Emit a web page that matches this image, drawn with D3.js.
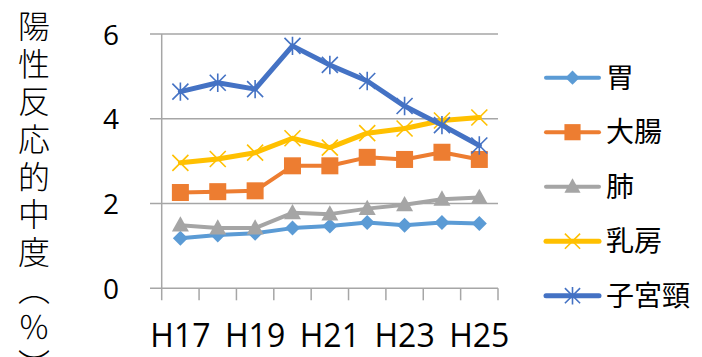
<!DOCTYPE html>
<html>
<head>
<meta charset="utf-8">
<script src="https://cdn.jsdelivr.net/npm/d3@7"></script>
<style>
  html, body { margin: 0; padding: 0; background: #fff; }
  svg { display: block; }
</style>
</head>
<body>
<svg id="chart" width="702" height="357"></svg>
<script>
// 年度（平成）
const years = ["H17", "H18", "H19", "H20", "H21", "H22", "H23", "H24", "H25"];
const yearLabels = ["H17", "H19", "H21", "H23", "H25"];
const yTicks = [0, 2, 4, 6];

// 部位別の陽性反応的中度（%）
const stomach    = [1.18, 1.26, 1.30, 1.42, 1.47, 1.55, 1.49, 1.55, 1.53];
const colorectal = [2.26, 2.28, 2.30, 2.89, 2.89, 3.09, 3.04, 3.21, 3.04];
const lung       = [1.49, 1.42, 1.42, 1.78, 1.75, 1.88, 1.97, 2.10, 2.14];
const breast     = [2.96, 3.05, 3.20, 3.54, 3.32, 3.66, 3.77, 3.96, 4.03];
const cervix     = [4.64, 4.85, 4.70, 5.72, 5.27, 4.89, 4.30, 3.85, 3.37];

const series = [
  { name: "胃",     values: stomach,    color: "#5B9BD5", marker: "diamond",  width: 4 },
  { name: "大腸",   values: colorectal, color: "#ED7D31", marker: "square",   width: 4 },
  { name: "肺",     values: lung,       color: "#A5A5A5", marker: "triangle", width: 4 },
  { name: "乳房",   values: breast,     color: "#FFC000", marker: "x",        width: 5 },
  { name: "子宮頸", values: cervix,     color: "#4472C4", marker: "star",     width: 5 }
];

const svg = d3.select("#chart");
const plot = { left: 161.7, right: 498, top: 34, bottom: 288.3 };

const x = d3.scaleBand().domain(years).range([plot.left, plot.right]).paddingInner(0).paddingOuter(0);
const cx = d => x(d) + x.bandwidth() / 2;
const y = d3.scaleLinear().domain([0, 6]).range([plot.bottom, plot.top]);

const gridColor = "#A6A6A6";

// 横の目盛線
svg.append("g").selectAll("line").data(yTicks).join("line")
  .attr("x1", 150).attr("x2", plot.right)
  .attr("y1", d => y(d)).attr("y2", d => y(d))
  .attr("stroke", gridColor).attr("stroke-width", 1.5);

// 縦軸
svg.append("line")
  .attr("x1", plot.left).attr("x2", plot.left)
  .attr("y1", plot.top).attr("y2", plot.bottom + 12)
  .attr("stroke", gridColor).attr("stroke-width", 1.5);

// 横軸の区切り目盛
const bounds = years.map(d => x(d)).concat([x(years[years.length - 1]) + x.bandwidth()]);
svg.append("g").selectAll("line").data(bounds.slice(1)).join("line")
  .attr("x1", d => d).attr("x2", d => d)
  .attr("y1", plot.bottom).attr("y2", plot.bottom + 12)
  .attr("stroke", gridColor).attr("stroke-width", 1.5);

// 縦軸ラベル
const yAxis = d3.axisLeft(y).tickValues(yTicks).tickFormat(d3.format("d")).tickSize(0).tickPadding(0);
const gy = svg.append("g").attr("transform", "translate(119,0)").call(yAxis);
gy.select(".domain").remove();
gy.selectAll("text")
  .attr("font-family", "'Open Sans', sans-serif")
  .attr("font-size", 28).attr("fill", "#000")
  .attr("x", 0).attr("dy", "0.36em");

// 横軸ラベル
const xAxis = d3.axisBottom(x).tickValues(yearLabels).tickSize(0).tickPadding(0);
const gx = svg.append("g").attr("transform", "translate(0,347)").call(xAxis);
gx.select(".domain").remove();
gx.selectAll("text")
  .attr("font-family", "'Open Sans', sans-serif")
  .attr("font-size", 32).attr("fill", "#000")
  .attr("y", 0).attr("dy", 0);

// 縦軸タイトル
svg.append("text")
  .attr("x", 34).attr("y", 10)
  .attr("style", "writing-mode: vertical-rl; font-family: 'Noto Sans CJK JP', sans-serif; font-size: 32px; letter-spacing: 5.6px; font-weight: 300;")
  .attr("fill", "#000")
  .text("陽性反応的中度（％）");

// マーカー
function drawMarker(g, type, color, px, py, scale) {
  const s = scale || 1;
  if (type === "diamond") {
    const r = 7.5 * s;
    g.append("path").attr("d", `M${px},${py - r}L${px + r},${py}L${px},${py + r}L${px - r},${py}Z`).attr("fill", color);
  } else if (type === "square") {
    const h = 8.5 * s;
    g.append("rect").attr("x", px - h).attr("y", py - h).attr("width", 2 * h).attr("height", 2 * h).attr("fill", color);
  } else if (type === "triangle") {
    const h = 8.5 * s;
    g.append("path").attr("d", `M${px},${py - h * 1.05}L${px + h},${py + h * 0.75}L${px - h},${py + h * 0.75}Z`).attr("fill", color);
  } else if (type === "x") {
    const h = 8 * s;
    g.append("path").attr("d", `M${px - h},${py - h}L${px + h},${py + h}M${px - h},${py + h}L${px + h},${py - h}`)
      .attr("stroke", color).attr("stroke-width", 1.6).attr("fill", "none");
  } else if (type === "star") {
    const h = 8 * s;
    g.append("path").attr("d", `M${px - h},${py - h}L${px + h},${py + h}M${px - h},${py + h}L${px + h},${py - h}M${px},${py - h * 1.15}L${px},${py + h * 1.15}`)
      .attr("stroke", color).attr("stroke-width", 1.6).attr("fill", "none");
  }
}

const line = d3.line().x((d, i) => cx(years[i])).y(d => y(d));

series.forEach(s => {
  const g = svg.append("g");
  g.append("path").datum(s.values).attr("d", line)
    .attr("fill", "none").attr("stroke", s.color).attr("stroke-width", s.width)
    .attr("stroke-linejoin", "round").attr("stroke-linecap", "round");
  s.values.forEach((v, i) => drawMarker(g, s.marker, s.color, cx(years[i]), y(v)));
});

// 凡例
const legendY = d3.scalePoint().domain(series.map(s => s.name)).range([77.7, 295.7]);
series.forEach(s => {
  const g = svg.append("g");
  const ly = legendY(s.name);
  g.append("line").attr("x1", 546).attr("x2", 599).attr("y1", ly).attr("y2", ly)
    .attr("stroke", s.color).attr("stroke-width", s.width).attr("stroke-linecap", "round");
  drawMarker(g, s.marker, s.color, 572.5, ly, 0.95);
  g.append("text").attr("x", 606).attr("y", ly).attr("dy", "0.36em")
    .attr("font-family", "'Noto Sans CJK JP', sans-serif").attr("font-size", 28)
    .attr("fill", "#000").text(s.name);
});
</script>
</body>
</html>
